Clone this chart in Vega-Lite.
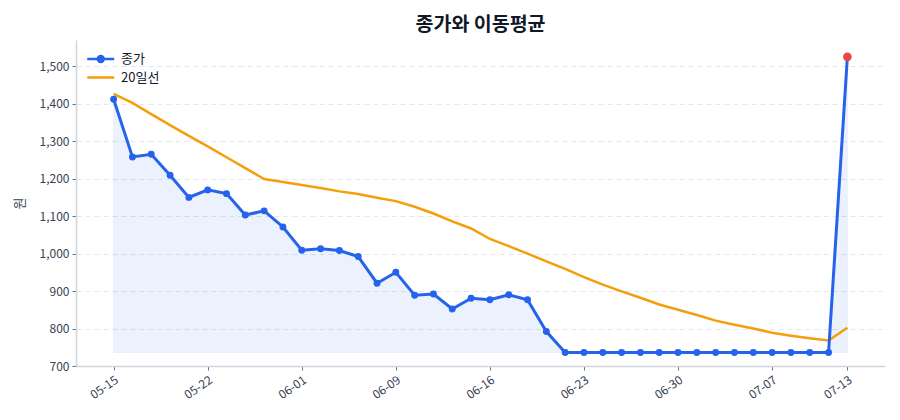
{
  "$schema": "https://vega.github.io/schema/vega-lite/v6.json",
  "width": 809,
  "height": 326,
  "autosize": {"type": "none"},
  "padding": {"left": 76, "top": 40, "right": 15, "bottom": 54},
  "background": "white",
  "title": {
    "text": "종가와 이동평균",
    "font": "Noto Sans CJK KR",
    "fontSize": 19.5,
    "fontWeight": "bold",
    "color": "#111827",
    "anchor": "middle",
    "offset": 5
  },
  "config": {
    "font": "Noto Sans CJK KR",
    "view": {"stroke": null},
    "axis": {
      "labelFont": "Noto Sans CJK KR",
      "titleFont": "Noto Sans CJK KR",
      "labelColor": "#374151",
      "titleColor": "#374151",
      "domainColor": "#d1d5db",
      "domainWidth": 1.5,
      "tickColor": "#6b7280",
      "tickSize": 4,
      "labelFontSize": 12
    }
  },
  "data": {
    "values": [
      {"date": "05-15", "close": 1412, "ma20": 1426},
      {"date": "05-16", "close": 1258, "ma20": 1402},
      {"date": "05-19", "close": 1265, "ma20": 1372},
      {"date": "05-20", "close": 1209, "ma20": 1343},
      {"date": "05-21", "close": 1150, "ma20": 1314},
      {"date": "05-22", "close": 1170, "ma20": 1286},
      {"date": "05-23", "close": 1160, "ma20": 1257},
      {"date": "05-26", "close": 1103, "ma20": 1228},
      {"date": "05-27", "close": 1114, "ma20": 1199},
      {"date": "05-28", "close": 1071, "ma20": 1191},
      {"date": "06-01", "close": 1009, "ma20": 1183},
      {"date": "06-02", "close": 1013, "ma20": 1175},
      {"date": "06-03", "close": 1008, "ma20": 1166},
      {"date": "06-04", "close": 992, "ma20": 1159},
      {"date": "06-05", "close": 921, "ma20": 1149},
      {"date": "06-09", "close": 950, "ma20": 1140},
      {"date": "06-10", "close": 889, "ma20": 1125},
      {"date": "06-11", "close": 892, "ma20": 1107},
      {"date": "06-12", "close": 852, "ma20": 1086},
      {"date": "06-13", "close": 881, "ma20": 1067},
      {"date": "06-16", "close": 877, "ma20": 1039},
      {"date": "06-17", "close": 890, "ma20": 1020},
      {"date": "06-18", "close": 877, "ma20": 1000},
      {"date": "06-19", "close": 792, "ma20": 979},
      {"date": "06-20", "close": 736, "ma20": 959},
      {"date": "06-23", "close": 736, "ma20": 937},
      {"date": "06-24", "close": 736, "ma20": 917},
      {"date": "06-25", "close": 736, "ma20": 899},
      {"date": "06-26", "close": 736, "ma20": 882},
      {"date": "06-27", "close": 736, "ma20": 864},
      {"date": "06-30", "close": 736, "ma20": 850},
      {"date": "07-01", "close": 736, "ma20": 836},
      {"date": "07-02", "close": 736, "ma20": 821},
      {"date": "07-03", "close": 736, "ma20": 810},
      {"date": "07-04", "close": 736, "ma20": 800},
      {"date": "07-07", "close": 736, "ma20": 789},
      {"date": "07-08", "close": 736, "ma20": 781},
      {"date": "07-09", "close": 736, "ma20": 774},
      {"date": "07-10", "close": 736, "ma20": 768},
      {"date": "07-13", "close": 1525, "ma20": 802}
    ]
  },
  "encoding": {
    "x": {
      "field": "date",
      "type": "ordinal",
      "sort": null,
      "scale": {
        "type": "point",
        "padding": 1,
        "domain": ["pre", "05-15", "05-16", "05-19", "05-20", "05-21", "05-22", "05-23", "05-26", "05-27", "05-28", "06-01", "06-02", "06-03", "06-04", "06-05", "06-09", "06-10", "06-11", "06-12", "06-13", "06-16", "06-17", "06-18", "06-19", "06-20", "06-23", "06-24", "06-25", "06-26", "06-27", "06-30", "07-01", "07-02", "07-03", "07-04", "07-07", "07-08", "07-09", "07-10", "07-13", "post"]
      },
      "axis": {
        "title": null,
        "grid": false,
        "values": ["05-15", "05-22", "06-01", "06-09", "06-16", "06-23", "06-30", "07-07", "07-13"],
        "labelAngle": -35,
        "labelAlign": "right",
        "labelBaseline": "top",
        "labelPadding": 4
      }
    }
  },
  "layer": [
    {
      "mark": {"type": "area", "color": "#2563eb", "fillOpacity": 0.09, "stroke": "#2563eb", "strokeOpacity": 0.06, "strokeWidth": 1},
      "encoding": {
        "y": {
          "field": "close",
          "type": "quantitative",
          "scale": {"domain": [700, 1570], "nice": false, "zero": false},
          "axis": {
            "title": "원",
            "titleFontSize": 13,
            "titleFontWeight": "normal",
            "titlePadding": 13,
            "values": [700, 800, 900, 1000, 1100, 1200, 1300, 1400, 1500],
            "format": ",d",
            "grid": true,
            "gridColor": "#e5e7eb",
            "gridDash": [5, 4],
            "gridWidth": 1,
            "labelPadding": 3
          }
        },
        "y2": {"datum": 736}
      }
    },
    {
      "mark": {"type": "line", "strokeWidth": 2.5},
      "encoding": {
        "y": {"field": "ma20", "type": "quantitative"},
        "color": {
          "datum": "20일선",
          "scale": {"domain": ["종가", "20일선"], "range": ["#2563eb", "#f59e0b"]},
          "legend": {
            "title": null,
            "orient": "top-left",
            "offset": 7,
            "padding": 4,
            "labelFontSize": 13,
            "labelColor": "#111827",
            "labelOffset": 18,
            "symbolSize": 182,
            "symbolStrokeWidth": 2.5,
            "rowPadding": 2.5,
            "encode": {
              "symbols": {
                "update": {
                  "shape": {"signal": "datum.value === '종가' ? 'M-1.15,0L2.85,0M0.41,0A0.44,0.44,0,1,1,1.29,0A0.44,0.44,0,1,1,0.41,0' : 'M-1.15,0L2.85,0'"},
                  "fill": {"signal": "datum.value === '종가' ? '#2563eb' : 'transparent'"}
                }
              }
            }
          }
        }
      }
    },
    {
      "mark": {"type": "line", "strokeWidth": 3, "point": {"filled": true, "size": 48, "opacity": 1}},
      "encoding": {
        "y": {"field": "close", "type": "quantitative"},
        "color": {"datum": "종가"}
      }
    },
    {
      "transform": [{"filter": "datum.date === '07-13'"}],
      "mark": {"type": "point", "filled": true, "color": "#ef4444", "size": 75, "opacity": 1},
      "encoding": {
        "y": {"field": "close", "type": "quantitative"}
      }
    }
  ]
}
